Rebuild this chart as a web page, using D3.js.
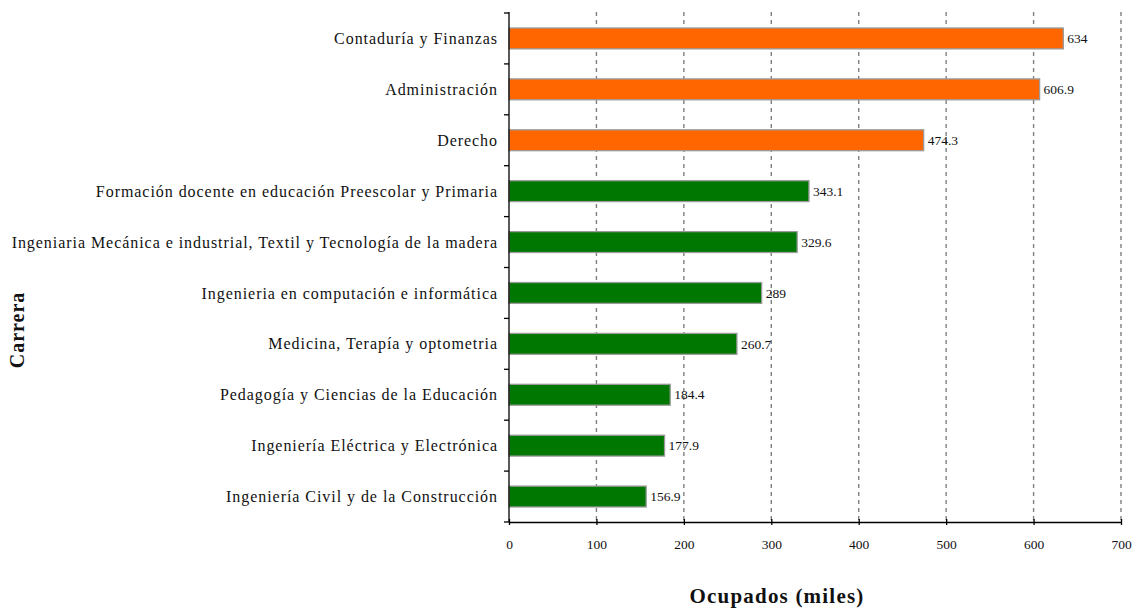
<!DOCTYPE html>
<html>
<head>
<meta charset="utf-8">
<script src="https://cdn.jsdelivr.net/npm/d3@7"></script>
<style>
  html, body { margin: 0; padding: 0; background: #fff; }
  svg { display: block; }
  text { font-family: "Liberation Serif", "DejaVu Serif", serif; fill: #111; }
</style>
</head>
<body>
<svg id="chart" width="1136" height="609"></svg>
<script>
// Carreras con más ocupados (miles)
const carreras = [
  "Contaduría y Finanzas",
  "Administración",
  "Derecho",
  "Formación docente en educación Preescolar y Primaria",
  "Ingeniaria Mecánica e industrial, Textil y Tecnología de la madera",
  "Ingenieria en computación e informática",
  "Medicina, Terapía y optometria",
  "Pedagogía y Ciencias de la Educación",
  "Ingeniería Eléctrica y Electrónica",
  "Ingeniería Civil y de la Construcción"
];
const ocupados = [634, 606.9, 474.3, 343.1, 329.6, 289, 260.7, 184.4, 177.9, 156.9];
const grupo = ["top", "top", "top", "rest", "rest", "rest", "rest", "rest", "rest", "rest"];
const xTicks = [0, 100, 200, 300, 400, 500, 600, 700];

const colores = { top: "#ff6600", rest: "#007700" };

const svg = d3.select("#chart");
const m = { left: 509, right: 15, top: 12, bottom: 87 };
const W = 1136, H = 609;
const x = d3.scaleLinear().domain([0, 700]).range([m.left, W - m.right]);
const y = d3.scaleBand().domain(carreras).range([m.top + 1, H - m.bottom]).paddingInner(0.59).paddingOuter(0.295);

const rows = carreras.map((c, i) => ({ c, v: ocupados[i], g: grupo[i] }));
const y0 = H - m.bottom;

// vertical dashed gridlines
svg.append("g").selectAll("line").data(xTicks.filter(t => t > 0)).join("line")
  .attr("x1", d => x(d)).attr("x2", d => x(d))
  .attr("y1", m.top).attr("y2", y0)
  .attr("stroke", "#808080").attr("stroke-width", 1.4)
  .attr("stroke-dasharray", "4,4");

// bars
svg.append("g").selectAll("rect").data(rows).join("rect")
  .attr("x", x(0)).attr("y", d => y(d.c))
  .attr("width", d => x(d.v) - x(0)).attr("height", y.bandwidth())
  .attr("fill", d => colores[d.g])
  .attr("stroke", "#9a9a9a").attr("stroke-width", 1.3);

// value labels
svg.append("g").selectAll("text").data(rows).join("text")
  .attr("x", d => x(d.v) + 4).attr("y", d => y(d.c) + y.bandwidth() / 2)
  .attr("dy", "0.35em").attr("font-size", 13.5)
  .text(d => String(d.v));

// x axis
const xAxis = svg.append("g").attr("transform", `translate(0,${y0})`)
  .call(d3.axisBottom(x).tickValues(xTicks).tickSize(5).tickSizeOuter(0).tickPadding(12));
xAxis.select(".domain").attr("stroke", "#000").attr("stroke-width", 1.3);
xAxis.selectAll(".tick line").attr("stroke", "#000").attr("stroke-width", 1.3).attr("y1", -3).attr("y2", 3);
xAxis.selectAll("text").attr("font-size", 13.5).attr("font-family", "Liberation Serif, serif").attr("fill", "#111");

// y axis: category ticks sit on band boundaries
const yAxisG = svg.append("g");
yAxisG.append("line").attr("x1", x(0)).attr("x2", x(0)).attr("y1", m.top).attr("y2", y0)
  .attr("stroke", "#000").attr("stroke-width", 1.3);
const step = y.step();
const bounds = d3.range(0, carreras.length + 1).map(i => y(carreras[0]) - y.paddingOuter() * step + i * step);
yAxisG.selectAll("line.tk").data(bounds).join("line").attr("class", "tk")
  .attr("x1", x(0) - 5).attr("x2", x(0)).attr("y1", d => d).attr("y2", d => d)
  .attr("stroke", "#000").attr("stroke-width", 1.3);
yAxisG.selectAll("text").data(rows).join("text")
  .attr("x", x(0) - 11).attr("y", d => y(d.c) + y.bandwidth() / 2)
  .attr("dy", "0.35em").attr("text-anchor", "end").attr("font-size", 16)
  .attr("letter-spacing", 0.95)
  .text(d => d.c);

// axis titles
svg.append("text").attr("x", x(350) - 38).attr("y", 603)
  .attr("text-anchor", "middle").attr("font-size", 21).attr("font-weight", "bold")
  .attr("letter-spacing", 1.2)
  .text("Ocupados (miles)");
svg.append("text").attr("transform", `translate(24,330) rotate(-90)`)
  .attr("text-anchor", "middle").attr("font-size", 20).attr("font-weight", "bold")
  .attr("letter-spacing", 1)
  .text("Carrera");
</script>
</body>
</html>
